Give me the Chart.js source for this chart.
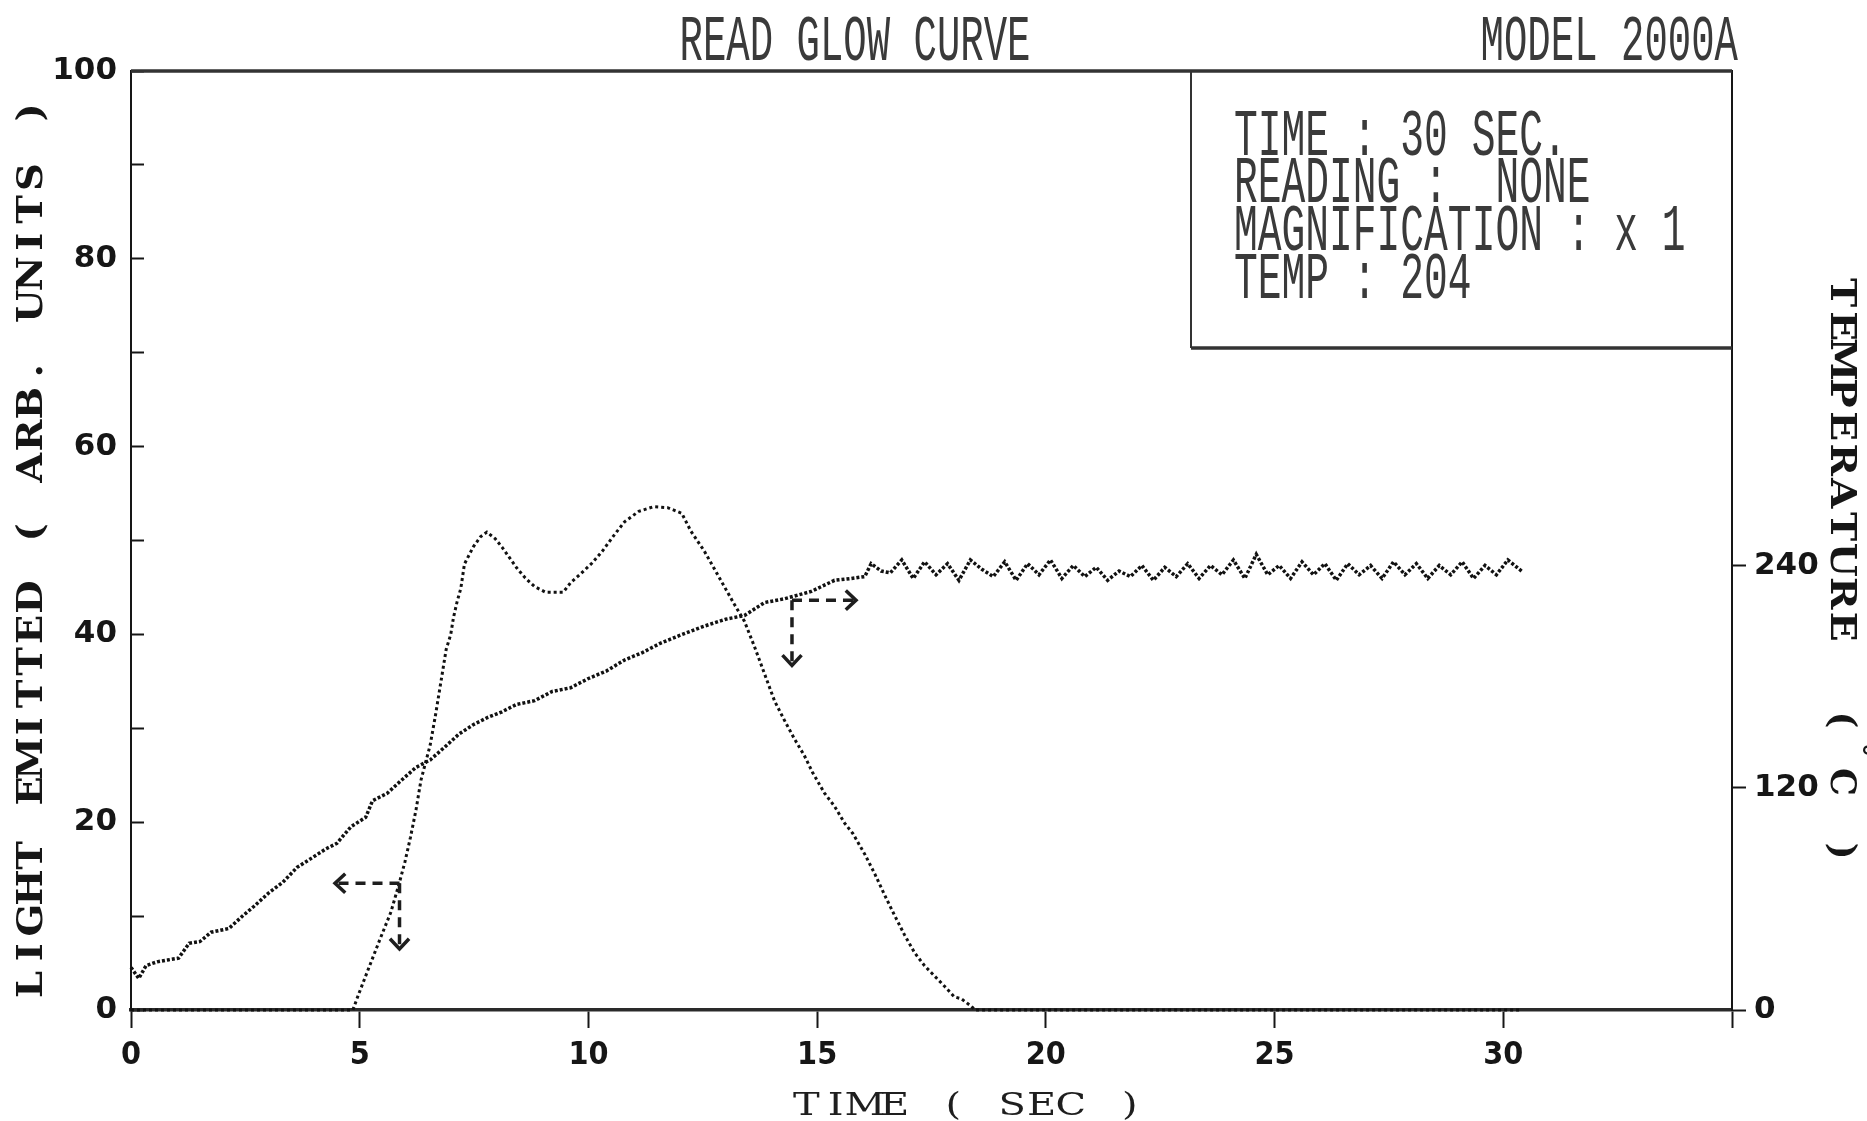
<!DOCTYPE html>
<html>
<head>
<meta charset="utf-8">
<script src="https://cdn.jsdelivr.net/npm/chart.js@4.4.1/dist/chart.umd.min.js"></script>
<style>
html,body{margin:0;padding:0;background:#ffffff;}
canvas{display:block;}
</style>
</head>
<body>
<canvas id="c" width="1867" height="1121"></canvas>
<script>
// ---------------- data ----------------
const titleText = "READ GLOW CURVE";
const modelText = "MODEL 2000A";
const infoLines = ["TIME : 30 SEC.", "READING :  NONE", "MAGNIFICATION : x 1", "TEMP : 204"];
const xTitle = "TIME ( SEC )";
const yTitle = "LIGHT EMITTED ( ARB. UNITS )";
const y2TitleWord = "TEMPERATURE";

const xTickValues = [0, 5, 10, 15, 20, 25, 30, 35];
const xTickLabels = ["0", "5", "10", "15", "20", "25", "30", ""];
const lightTickLabels = [0, 20, 40, 60, 80, 100];
const tempTicks = [0, 120, 240];

// glow curve (light emitted, arb. units) vs time (s)
const glowTime = [0, 4.85, 4.97, 5.2, 5.44, 5.68, 5.87, 5.99, 6.11, 6.23,
  6.34, 6.54, 6.66, 6.78, 6.89, 6.99, 7.05, 7.13, 7.21, 7.29,
  7.48, 7.64, 7.78, 7.96, 8.11, 8.27, 8.43, 8.62, 8.82, 9.06,
  9.45, 9.61, 9.84, 10.08, 10.31, 10.55, 10.79, 11.1, 11.42, 11.73,
  12.04, 12.24, 12.53, 12.82, 13.19, 13.41, 13.63, 13.85, 14.07, 14.28,
  14.5, 14.72, 14.9, 15.16, 15.38, 15.6, 15.78, 16.04, 16.26, 16.47,
  16.69, 16.91, 17.13, 17.35, 17.57, 17.79, 18.0, 18.15, 18.37, 18.45, 30.4];
const glowLight = [0, 0, 1.6, 4.5, 7.5, 10.4, 13.6, 15.8, 18.4, 21.3,
  24.5, 28.2, 31.5, 35.1, 38.4, 40.0, 41.8, 43.5, 44.9, 47.5,
  49.3, 50.4, 50.9, 50.2, 49.3, 48.2, 47.1, 46.0, 45.1, 44.5,
  44.5, 45.5, 46.5, 47.6, 48.9, 50.5, 52.0, 53.1, 53.6, 53.5,
  52.9, 51.0, 48.9, 46.4, 43.2, 41.4, 38.7, 35.8, 32.9, 30.9,
  28.9, 27.1, 25.3, 23.1, 21.7, 19.9, 18.8, 16.6, 14.5, 12.3,
  10.1, 8.0, 6.1, 4.7, 3.6, 2.5, 1.4, 1.2, 0.4, 0, 0];

// temperature (deg C) vs time (s)
const tempTime = [0, 0.17, 0.33, 0.57, 0.8, 1.04, 1.27, 1.51, 1.75, 2.14,
  2.45, 2.69, 3.0, 3.32, 3.63, 3.95, 4.26, 4.5, 4.81, 5.13,
  5.28, 5.6, 5.91, 6.23, 6.54, 6.86, 7.17, 7.48, 7.8, 8.11,
  8.43, 8.82, 9.21, 9.61, 10.0, 10.39, 10.79, 11.18, 11.57, 11.97,
  12.5, 13.0, 13.41, 13.85, 14.28, 14.87, 15.38, 15.74, 16.04, 16.18, 16.4,
  16.6, 16.85, 17.1, 17.35, 17.6, 17.85, 18.1, 18.35, 18.6, 18.85,
  19.1, 19.35, 19.6, 19.85, 20.1, 20.35, 20.6, 20.85, 21.1, 21.35,
  21.6, 21.85, 22.1, 22.35, 22.6, 22.85, 23.1, 23.35, 23.6, 23.85,
  24.1, 24.35, 24.6, 24.85, 25.1, 25.35, 25.6, 25.85, 26.1, 26.35,
  26.6, 26.85, 27.1, 27.35, 27.6, 27.85, 28.1, 28.35, 28.6, 28.85,
  29.1, 29.35, 29.6, 29.85, 30.1, 30.4];
const tempC = [23, 17, 24, 26, 27, 28, 36, 37, 42, 44,
  51, 56, 63, 69, 77, 82, 87, 90, 99, 104,
  113, 117, 124, 131, 135, 142, 149, 154, 158, 161,
  165, 167, 172, 174, 179, 183, 189, 193, 198, 202,
  207, 211, 213, 220, 222, 226, 232, 233, 234, 241, 237,
  236, 243, 233, 242, 235, 241, 232, 243, 238, 234,
  242, 232, 241, 235, 243, 233, 240, 234, 239, 232,
  237, 234, 240, 232, 239, 234, 241, 233, 240, 235,
  243, 233, 246, 235, 240, 233, 242, 235, 241, 232,
  241, 235, 240, 233, 242, 235, 241, 233, 240, 235,
  242, 233, 240, 235, 243, 237];

// dashed reading arrows: origin (time, light), horizontal tip (time), vertical tip (light)
const arrowTime = [5.87, 14.45];
const arrowLight = [13.5, 43.65];
const arrowHTip = [4.46, 15.85];
const arrowVTip = [6.5, 36.7];

// ---------------- chart ----------------
const INK = '#161616';
const DOT = '#3a3a3a';

function monoRun(ctx, str, startX, y, pitch, sx) {
  for (let i = 0; i < str.length; i++) {
    ctx.save();
    ctx.translate(startX + (i + 0.5) * pitch, y);
    ctx.scale(sx, 1);
    ctx.fillText(str[i], 0, 0);
    ctx.restore();
  }
}
function dotText(ctx, str, x, y, align, size) {
  ctx.save();
  ctx.translate(x, y);
  ctx.scale(0.6, 1);
  ctx.font = size + 'px "Liberation Mono", "DejaVu Sans Mono", monospace';
  ctx.fillStyle = DOT;
  ctx.textAlign = align;
  ctx.textBaseline = 'alphabetic';
  ctx.fillText(str, 0, 0);
  ctx.restore();
}
function arrowHead(ctx, x, y, dx, dy) {
  const len = 14, ang = 0.75;
  const a = Math.atan2(dy, dx);
  ctx.setLineDash([]);
  ctx.beginPath();
  ctx.moveTo(x - len * Math.cos(a - ang), y - len * Math.sin(a - ang));
  ctx.lineTo(x, y);
  ctx.lineTo(x - len * Math.cos(a + ang), y - len * Math.sin(a + ang));
  ctx.stroke();
}

const decor = {
  id: 'decor',
  afterDatasetsDraw(chart) {
    const ctx = chart.ctx;
    const xs = chart.scales.x, ys = chart.scales.y;
    ctx.save();
    ctx.strokeStyle = '#1e1e1e';
    ctx.lineWidth = 3.5;
    ctx.lineCap = 'butt';
    for (let i = 0; i < arrowTime.length; i++) {
      const ox = xs.getPixelForValue(arrowTime[i]);
      const oy = ys.getPixelForValue(arrowLight[i]);
      const hx = xs.getPixelForValue(arrowHTip[i]);
      const vy = ys.getPixelForValue(arrowVTip[i]);
      ctx.setLineDash([10, 7]);
      ctx.beginPath(); ctx.moveTo(ox, oy); ctx.lineTo(hx, oy); ctx.stroke();
      arrowHead(ctx, hx, oy, hx - ox, 0);
      ctx.setLineDash([10, 7]);
      ctx.beginPath(); ctx.moveTo(ox, oy); ctx.lineTo(ox, vy); ctx.stroke();
      arrowHead(ctx, ox, vy, 0, 1);
    }
    ctx.restore();
  },
  afterDraw(chart) {
    const ctx = chart.ctx;
    const a = chart.chartArea;
    const midY = (a.top + a.bottom) / 2;
    ctx.save();
    // top frame line
    ctx.strokeStyle = '#333';
    ctx.lineWidth = 3.5;
    ctx.beginPath(); ctx.moveTo(a.left, a.top); ctx.lineTo(a.right, a.top); ctx.stroke();
    // info box
    const bx = a.right - 541, by = a.top + 277;
    ctx.lineWidth = 2;
    ctx.beginPath(); ctx.moveTo(bx, a.top); ctx.lineTo(bx, by); ctx.stroke();
    ctx.lineWidth = 3.5;
    ctx.beginPath(); ctx.moveTo(bx, by); ctx.lineTo(a.right, by); ctx.stroke();
    const base = [84, 131, 179, 227];
    infoLines.forEach((s, i) => dotText(ctx, s, bx + 43, a.top + base[i], 'left', 66));
    // title row
    dotText(ctx, titleText, 855, 60, 'center', 65);
    dotText(ctx, modelText, 1738, 60, 'right', 65);

    // left axis title (bottom to top)
    ctx.fillStyle = INK;
    ctx.textAlign = 'center';
    ctx.textBaseline = 'middle';
    ctx.font = 'bold 35px "DejaVu Serif", serif';
    ctx.save();
    ctx.translate(33, midY + 8);
    ctx.rotate(-Math.PI / 2);
    const p1 = 32.3;
    monoRun(ctx, yTitle, -yTitle.length * p1 / 2, 0, p1, 1.1);
    ctx.restore();

    // right axis title (top to bottom)
    ctx.save();
    ctx.translate(1840, midY);
    ctx.rotate(Math.PI / 2);
    ctx.font = 'bold 35px "DejaVu Serif", serif';
    const p2 = 33.4;
    monoRun(ctx, y2TitleWord, 276 - midY, 0, p2, 1.12);
    ctx.fillText('(', 720 - midY, 0);
    ctx.font = 'bold 28px "DejaVu Serif", serif';
    ctx.fillText('\u00B0', 750 - midY, -18);
    ctx.font = 'bold 35px "DejaVu Serif", serif';
    ctx.fillText('C', 782 - midY, 0);
    ctx.fillText(')', 851 - midY, 0);
    ctx.restore();

    // x axis title
    ctx.font = '32px "DejaVu Serif", serif';
    ctx.fillStyle = '#1e1e1e';
    const p3 = 29.4;
    monoRun(ctx, xTitle, 968 - xTitle.length * p3 / 2, 1107, p3, 1.25);
    ctx.restore();
  }
};

const tickFont = { family: '"DejaVu Sans", sans-serif', size: 31, weight: 'bold' };
const xTickFont = { family: '"DejaVu Sans Condensed", "DejaVu Sans", sans-serif', size: 32, weight: 'bold' };

new Chart(document.getElementById('c'), {
  type: 'line',
  data: {
    datasets: [
      {
        label: 'Light emitted',
        data: glowTime.map((t, i) => ({ x: t, y: glowLight[i] })),
        yAxisID: 'y',
        borderColor: '#111',
        borderWidth: 3,
        borderDash: [3, 3],
        pointRadius: 0,
        tension: 0,
        clip: 4
      },
      {
        label: 'Temperature',
        data: tempTime.map((t, i) => ({ x: t, y: tempC[i] })),
        yAxisID: 'yT',
        borderColor: '#111',
        borderWidth: 3.5,
        borderDash: [3, 2],
        pointRadius: 0,
        tension: 0,
        clip: 4
      }
    ]
  },
  options: {
    responsive: false,
    animation: false,
    events: [],
    layout: { padding: { top: 71, left: 0, right: 0, bottom: 0 } },
    plugins: { legend: { display: false }, tooltip: { enabled: false }, title: { display: false } },
    scales: {
      x: {
        type: 'linear', min: 0, max: 35,
        afterBuildTicks: s => { s.ticks = xTickValues.map(v => ({ value: v })); },
        ticks: {
          autoSkip: false, maxRotation: 0, padding: 8, color: INK, font: xTickFont,
          callback: (v) => xTickLabels[xTickValues.indexOf(v)]
        },
        grid: { drawOnChartArea: false, drawTicks: true, tickLength: 18, tickWidth: 2, tickColor: INK },
        border: { display: true, color: '#2a2a2a', width: 3.5 },
        afterFit: s => { s.height = 111; }
      },
      y: {
        position: 'left', min: 0, max: 100,
        ticks: {
          stepSize: 10, padding: 27, color: INK, font: tickFont,
          callback: (v) => lightTickLabels.includes(v) ? String(v) : ''
        },
        grid: { drawOnChartArea: false, drawTicks: true, tickLength: -13, tickWidth: 2, tickColor: INK },
        border: { display: true, color: INK, width: 2 },
        afterFit: s => { s.width = 131; }
      },
      yT: {
        position: 'right', min: 0, max: 507,
        afterBuildTicks: s => { s.ticks = tempTicks.map(v => ({ value: v })); },
        ticks: { padding: 8, color: INK, font: tickFont, autoSkip: false },
        grid: { drawOnChartArea: false, drawTicks: true, tickLength: 14, tickWidth: 2, tickColor: INK },
        border: { display: true, color: INK, width: 2 },
        afterFit: s => { s.width = 135; }
      }
    }
  },
  plugins: [decor]
});
</script>
</body>
</html>
